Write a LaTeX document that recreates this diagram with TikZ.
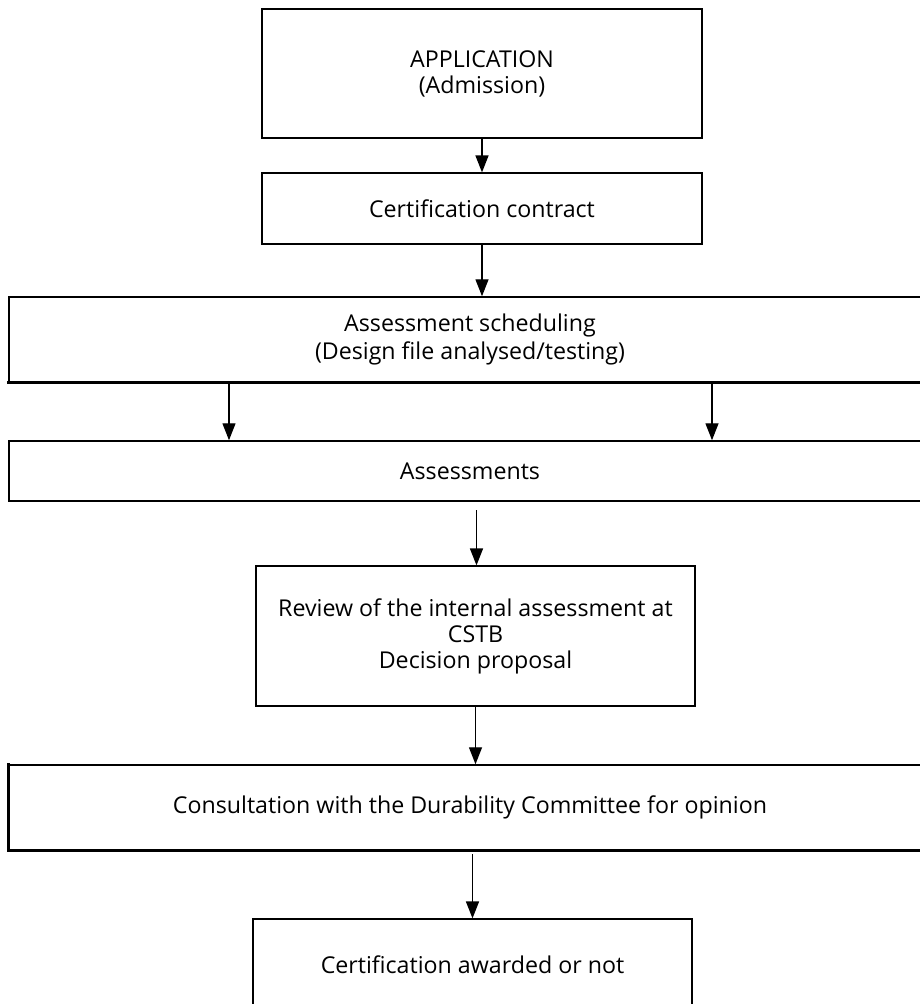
\documentclass[tikz,border=0pt]{standalone}
\usepackage{fontspec}
\setmainfont{Open Sans}
\usetikzlibrary{arrows.meta}
\begin{document}
\begin{tikzpicture}[x=1pt,y=-1pt,
  box/.style={draw=black, line width=1.2pt, inner sep=0pt, align=center,
    font=\fontsize{23.2}{26}\selectfont},
  arr/.style={line width=1.4pt, -{Triangle[length=17pt,width=13pt]}},
  heavy/.style={line width=2.6pt, line cap=rect}]
\useasboundingbox (0,0) rectangle (920,1004);
\fill[white] (0,0) rectangle (920,1004);
\clip (0,0) rectangle (920,1004);
\node[box, line width=2.4pt, minimum width=440pt, minimum height=129pt] (app) at (482,73.5) {APPLICATION\\(Admission)};
\node[box, minimum width=440pt, minimum height=71pt] (cc) at (482,208.5) {Certification contract};
\node[box, line width=1.5pt, minimum width=922pt, minimum height=85pt,
  font=\fontsize{23.2}{28}\selectfont] (sched) at (470,339.5) {Assessment scheduling\\(Design file analysed/testing)};
\node[box, line width=1.5pt, minimum width=922pt, minimum height=60pt] (assess) at (470,471) {Assessments};
\node[box, minimum width=439pt, minimum height=140pt] (review) at (475.5,636) {Review of the internal assessment at\\CSTB\\Decision proposal};
\node[box, line width=1.5pt, minimum width=922pt, minimum height=85pt] (consult) at (470,807.5) {Consultation with the Durability Committee for opinion};
\node[box, minimum width=439pt, minimum height=92pt] (award) at (472.5,965) {Certification awarded or not};
\draw[heavy] (sched.south west) -- (sched.south east);
\draw[heavy] (consult.north west) -- (consult.south west) -- (consult.south east);
\coordinate (l) at (229,0);
\coordinate (r) at (712,0);
\coordinate (s5) at (476.5,510);
\coordinate (s7) at (472.5,854);
\draw[arr] (app) -- (cc);
\draw[arr] (cc) -- (cc.south |- sched.north);
\draw[arr] (sched.south -| l) -- (assess.north -| l);
\draw[arr] (sched.south -| r) -- (assess.north -| r);
\draw[arr] (s5) -- (s5 |- review.north);
\draw[arr] (review) -- (review.south |- consult.north);
\draw[arr] (s7) -- (award);
\end{tikzpicture}
\end{document}
